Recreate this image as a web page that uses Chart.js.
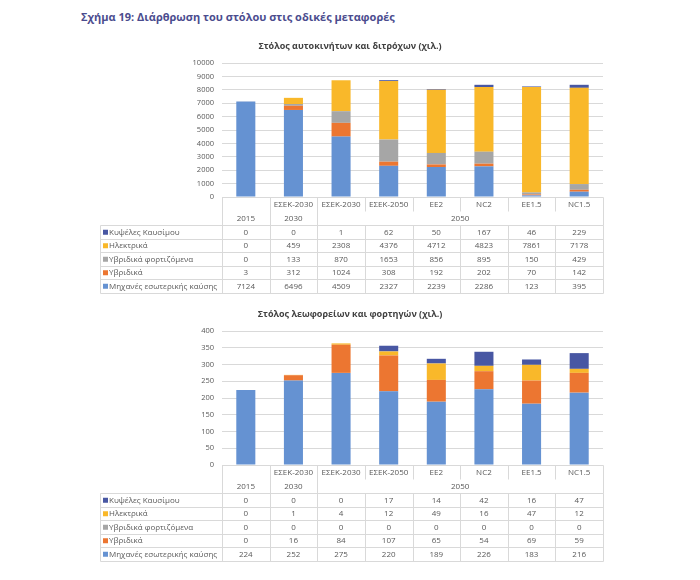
<!DOCTYPE html>
<html>
<head>
<meta charset="utf-8">
<script src="https://cdn.jsdelivr.net/npm/chart.js@4.4.1/dist/chart.umd.min.js"></script>
<style>
  body { margin: 0; background: #fff; width: 700px; height: 580px; position: relative; overflow: hidden; font-family: "Open Sans", "Noto Sans", sans-serif; }
  #fig-title { position: absolute; left: 81px; top: 9px; font-size: 11px; font-weight: bold; color: #4b4c8e; white-space: nowrap; }
  .box { position: absolute; left: 0; width: 700px; }
</style>
</head>
<body>
<div id="fig-title">Σχήμα 19: Διάρθρωση του στόλου στις οδικές μεταφορές</div>
<div class="box" style="top:34px;height:266px"><canvas id="carsChart" width="700" height="266"></canvas></div>
<div class="box" style="top:302px;height:266px"><canvas id="busChart" width="700" height="266"></canvas></div>

<script>
// categories (first level) and their groups (second level)
const categories = ['', 'ΕΣΕΚ-2030', 'ΕΣΕΚ-2030', 'ΕΣΕΚ-2050', 'ΕΕ2', 'NC2', 'ΕΕ1.5', 'NC1.5'];
const groups = [
    { label: '2015', from: 0, to: 0 },
    { label: '2030', from: 1, to: 1 },
    { label: '2050', from: 2, to: 7 }
];

// series names, bottom of stack first
const seriesNames = ['Μηχανές εσωτερικής καύσης', 'Υβριδικά', 'Υβριδικά φορτιζόμενα', 'Ηλεκτρικά', 'Κυψέλες Καυσίμου'];
const seriesColors = ['#6592d2', '#ec7631', '#a6a6a6', '#f9b82a', '#4857a3'];

// cars and two-wheelers (thousands)
const carsIce      = [7124, 6496, 4509, 2327, 2239, 2286, 123, 395];
const carsHybrid   = [3, 312, 1024, 308, 192, 202, 70, 142];
const carsPlugin   = [0, 133, 870, 1653, 856, 895, 150, 429];
const carsElectric = [0, 459, 2308, 4376, 4712, 4823, 7861, 7178];
const carsFuelCell = [0, 0, 1, 62, 50, 167, 46, 229];

// buses and trucks (thousands)
const busIce      = [224, 252, 275, 220, 189, 226, 183, 216];
const busHybrid   = [0, 16, 84, 107, 65, 54, 69, 59];
const busPlugin   = [0, 0, 0, 0, 0, 0, 0, 0];
const busElectric = [0, 1, 4, 12, 49, 16, 47, 12];
const busFuelCell = [0, 0, 0, 17, 14, 42, 16, 47];

const carsTicks = { max: 10000, step: 1000 };
const busTicks = { max: 400, step: 50 };

const FONT = '"Open Sans", "Noto Sans", sans-serif';
const GRID = '#d9d9d9';
const TXT = '#595959';

/* Title + data table under the plot, drawn against the x scale */
const tablePlugin = {
    id: 'dataTable',
    afterDraw(chart, args, opts) {
        const ctx = chart.ctx;
        const xs = chart.scales.x;
        const area = chart.chartArea;
        const n = categories.length;
        const w = (xs.right - xs.left) / n;
        const colX = i => xs.left + i * w;
        const top = area.bottom;
        const headH = 28;
        const rowH = 13.5;
        const legLeft = 100;
        const headBottom = top + headH;
        const sets = chart.data.datasets;
        const rows = sets.length;
        const bottom = headBottom + rows * rowH;

        ctx.save();
        // chart title, centred on the page
        ctx.fillStyle = '#404040';
        ctx.font = 'bold 9px ' + FONT;
        ctx.textAlign = 'center';
        ctx.textBaseline = 'middle';
        ctx.fillText(opts.title, 350, area.top - 17);

        ctx.strokeStyle = GRID;
        ctx.lineWidth = 1;
        const line = (x1, y1, x2, y2) => {
            ctx.beginPath();
            ctx.moveTo(Math.round(x1) + 0.5, Math.round(y1) + 0.5);
            ctx.lineTo(Math.round(x2) + 0.5, Math.round(y2) + 0.5);
            ctx.stroke();
        };

        // header
        line(xs.left, top, xs.right, top);
        const groupEdges = new Set([0, n]);
        groups.forEach(g => { groupEdges.add(g.from); groupEdges.add(g.to + 1); });
        for (let i = 0; i <= n; i++) {
            if (groupEdges.has(i)) line(colX(i), top, colX(i), headBottom);
            else line(colX(i), top, colX(i), top + 14);
        }

        ctx.fillStyle = TXT;
        ctx.font = '8px ' + FONT;
        categories.forEach((c, i) => ctx.fillText(c, colX(i) + w / 2, top + 8));
        groups.forEach(g => {
            const cx = (colX(g.from) + colX(g.to + 1)) / 2;
            ctx.fillText(g.label, cx, top + 21.5);
        });

        // body rows: top row is last dataset
        for (let r = 0; r <= rows; r++) line(legLeft, headBottom + r * rowH, xs.right, headBottom + r * rowH);
        line(legLeft, headBottom, legLeft, bottom);
        for (let i = 0; i <= n; i++) line(colX(i), headBottom, colX(i), bottom);

        for (let r = 0; r < rows; r++) {
            const ds = sets[rows - 1 - r];
            const cy = headBottom + r * rowH + rowH / 2 + 0.5;
            ctx.fillStyle = ds.backgroundColor;
            ctx.fillRect(legLeft + 3, cy - 2.5, 5, 5);
            ctx.fillStyle = TXT;
            ctx.textAlign = 'left';
            ctx.fillText(ds.label, legLeft + 9, cy);
            ctx.textAlign = 'center';
            ds.data.forEach((v, i) => ctx.fillText(String(v), colX(i) + w / 2, cy));
        }
        ctx.restore();
    }
};

function makeChart(id, title, seriesData, ticks) {
    const datasets = seriesData.map((data, k) => ({
        label: seriesNames[k],
        data: data,
        backgroundColor: seriesColors[k],
        borderWidth: 0,
        barPercentage: 0.4,
        categoryPercentage: 1.0
    }));

    return new Chart(document.getElementById(id), {
        type: 'bar',
        data: { labels: categories.map((c, i) => c || groups[0].label + i), datasets },
        options: {
            responsive: false,
            animation: false,
            layout: { padding: { left: 182, right: 97, top: 29, bottom: 103 } },
            plugins: {
                legend: { display: false },
                tooltip: { enabled: false },
                title: { display: false },
                dataTable: { title: title }
            },
            scales: {
                x: { stacked: true, display: false },
                y: {
                    stacked: true,
                    min: 0,
                    max: ticks.max,
                    afterFit: s => { s.width = 40; },
                    border: { display: false },
                    grid: { color: GRID, drawTicks: false },
                    ticks: {
                        stepSize: ticks.step,
                        padding: 8,
                        color: TXT,
                        font: { family: FONT, size: 7.5 },
                        callback: v => String(v)
                    }
                }
            }
        },
        plugins: [tablePlugin]
    });
}

makeChart('carsChart', 'Στόλος αυτοκινήτων και διτρόχων (χιλ.)',
    [carsIce, carsHybrid, carsPlugin, carsElectric, carsFuelCell], carsTicks);
makeChart('busChart', 'Στόλος λεωφορείων και φορτηγών (χιλ.)',
    [busIce, busHybrid, busPlugin, busElectric, busFuelCell], busTicks);
</script>
</body>
</html>
